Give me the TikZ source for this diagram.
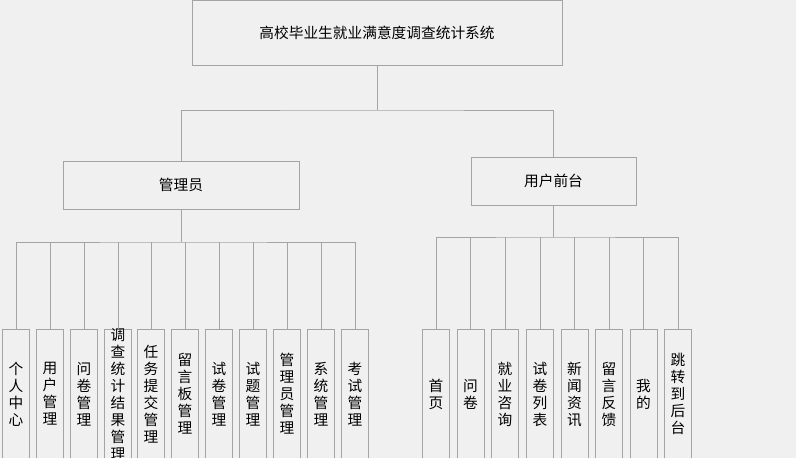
\documentclass[tikz,border=0pt]{standalone}
\usepackage{fontspec}
\newfontfamily\cjk{Noto Sans CJK SC}
\definecolor{bg}{HTML}{F0F0F0}
\definecolor{linegray}{HTML}{A4A4A4}
\tikzset{
  box/.style={draw=linegray, shape=rectangle, font=\cjk\fontsize{14.7}{17}\selectfont},
  leaf/.style={draw=linegray, shape=rectangle, minimum width=27pt, minimum height=130pt, inner sep=0pt},
  vtext/.style={font=\cjk\fontsize{14.7}{17}\selectfont, align=center, inner sep=0pt},
}
\begin{document}
\begin{tikzpicture}[x=1pt,y=-1pt,line width=0.8pt]
\fill[bg] (0,0) rectangle (796,458);
\useasboundingbox (0,0) rectangle (796,458);
\draw (377,33) node[box, minimum width=370pt, minimum height=65pt] (sys) {高校毕业生就业满意度调查统计系统};
\draw (181,185) node[box, minimum width=236pt, minimum height=48pt] (admin) {管理员};
\draw (553.5,181) node[box, minimum width=165pt, minimum height=48pt] (front) {用户前台};
\coordinate (split) at (377,110);
\coordinate (abus) at (181,242);
\coordinate (fbus) at (553.5,237);
% admin modules
\draw (16,394) node[leaf, label={[vtext]center:{个\\人\\中\\心}}] (m1) {};
\draw (50,394) node[leaf, label={[vtext]center:{用\\户\\管\\理}}] (m2) {};
\draw (84,394) node[leaf, label={[vtext]center:{问\\卷\\管\\理}}] (m3) {};
\draw (118,394) node[leaf, label={[vtext]center:{调\\查\\统\\计\\结\\果\\管\\理}}] (m4) {};
\draw (151,394) node[leaf, label={[vtext]center:{任\\务\\提\\交\\管\\理}}] (m5) {};
\draw (185,394) node[leaf, label={[vtext]center:{留\\言\\板\\管\\理}}] (m6) {};
\draw (219,394) node[leaf, label={[vtext]center:{试\\卷\\管\\理}}] (m7) {};
\draw (253,394) node[leaf, label={[vtext]center:{试\\题\\管\\理}}] (m8) {};
\draw (287,394) node[leaf, label={[vtext]center:{管\\理\\员\\管\\理}}] (m9) {};
\draw (321,394) node[leaf, label={[vtext]center:{系\\统\\管\\理}}] (m10) {};
\draw (355,394) node[leaf, label={[vtext]center:{考\\试\\管\\理}}] (m11) {};
% front pages
\draw (436,394) node[leaf, label={[vtext]center:{首\\页}}] (u1) {};
\draw (470.5,394) node[leaf, label={[vtext]center:{问\\卷}}] (u2) {};
\draw (505,394) node[leaf, label={[vtext]center:{就\\业\\咨\\询}}] (u3) {};
\draw (540,394) node[leaf, label={[vtext]center:{试\\卷\\列\\表}}] (u4) {};
\draw (574.5,394) node[leaf, label={[vtext]center:{新\\闻\\资\\讯}}] (u5) {};
\draw (609,394) node[leaf, label={[vtext]center:{留\\言\\反\\馈}}] (u6) {};
\draw (643.5,394) node[leaf, label={[vtext]center:{我\\的}}] (u7) {};
\draw (678,394) node[leaf, label={[vtext]center:{跳\\转\\到\\后\\台}}] (u8) {};
% connectors
\draw[linegray] (sys.south) -- (split);
\draw[linegray] (admin.north) |- (split) -| (front.north);
\draw[linegray] (admin.south) -- (abus);
\draw[linegray] (m1.north) |- (abus) -| (m11.north);
\draw[linegray] (m2.north) -- (m2.north |- abus);
\draw[linegray] (m3.north) -- (m3.north |- abus);
\draw[linegray] (m4.north) -- (m4.north |- abus);
\draw[linegray] (m5.north) -- (m5.north |- abus);
\draw[linegray] (m6.north) -- (m6.north |- abus);
\draw[linegray] (m7.north) -- (m7.north |- abus);
\draw[linegray] (m8.north) -- (m8.north |- abus);
\draw[linegray] (m9.north) -- (m9.north |- abus);
\draw[linegray] (m10.north) -- (m10.north |- abus);
\draw[linegray] (front.south) -- (fbus);
\draw[linegray] (u1.north) |- (fbus) -| (u8.north);
\draw[linegray] (u2.north) -- (u2.north |- fbus);
\draw[linegray] (u3.north) -- (u3.north |- fbus);
\draw[linegray] (u4.north) -- (u4.north |- fbus);
\draw[linegray] (u5.north) -- (u5.north |- fbus);
\draw[linegray] (u6.north) -- (u6.north |- fbus);
\draw[linegray] (u7.north) -- (u7.north |- fbus);
\end{tikzpicture}
\end{document}
